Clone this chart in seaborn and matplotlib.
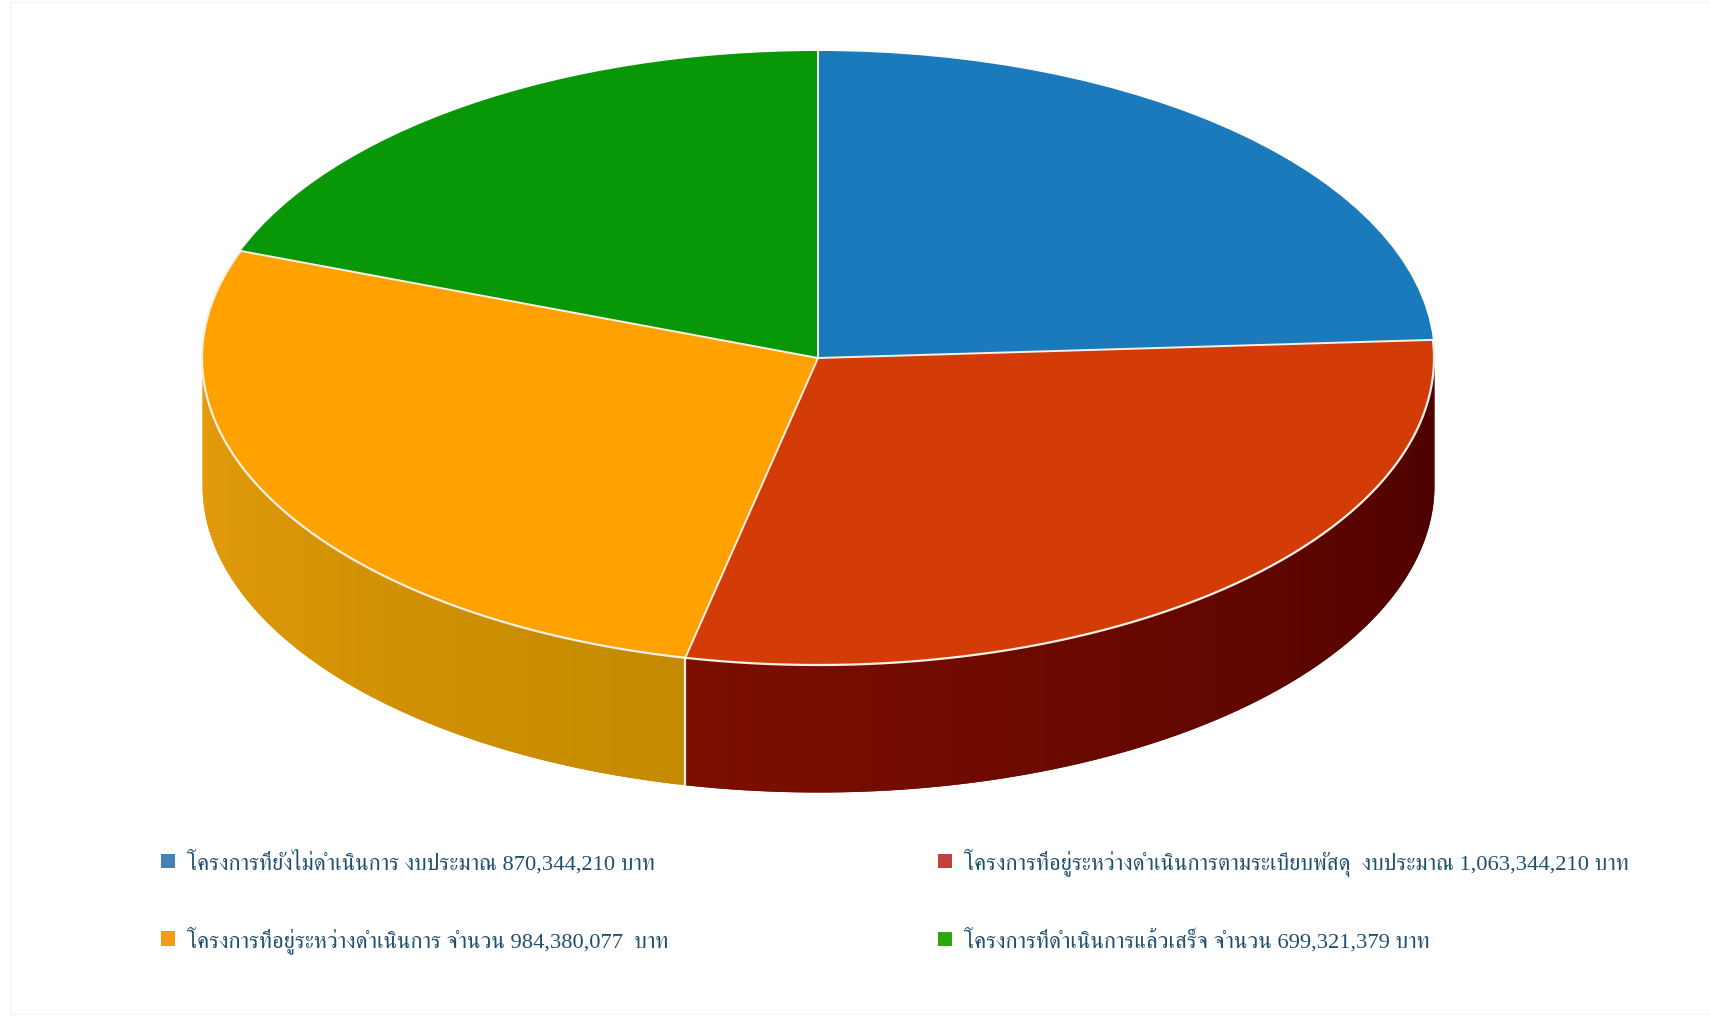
import numpy as np
import matplotlib
matplotlib.use('Agg')
import matplotlib.pyplot as plt
from matplotlib.patches import Patch, Rectangle
import seaborn as sns

# Budget per project status (baht)
statuses = ['โครงการที่ยังไม่ดำเนินการ งบประมาณ 870,344,210 บาท',
            'โครงการที่อยู่ระหว่างดำเนินการตามระเบียบพัสดุ  งบประมาณ 1,063,344,210 บาท',
            'โครงการที่อยู่ระหว่างดำเนินการ จำนวน 984,380,077  บาท',
            'โครงการที่ดำเนินการแล้วเสร็จ จำนวน 699,321,379 บาท']
budgets = [870344210, 1063344210, 984380077, 699321379]

top_colors = ['#1a7abb', '#d33c06', '#ffa200', '#079707']
legend_colors = ['#4482b4', '#c0423a', '#f79c12', '#2fa80f']
# wall shade at the two ends of each visible side
wall_shades = {1: ['#4a0000', '#7c0e00'], 2: ['#c48a00', '#e59c0c']}
line_color = '#f8efe6'

DEPTH = 127 / 307

sns.set_theme(style='white')
plt.rcParams['font.family'] = ['Liberation Serif', 'FreeSerif', 'DejaVu Sans']

fig = plt.figure(figsize=(17.1, 10.2), dpi=100)
ax = fig.add_axes([0, 0, 1, 1])

wedges, _ = ax.pie(budgets, colors=top_colors, startangle=90, counterclock=False,
                   wedgeprops={'linewidth': 0, 'zorder': 3})
ax.set_aspect('auto')
ax.set_xlim(-818 / 616, (1710 - 818) / 616)
ax.set_ylim((359 - 1020) / 307, 359 / 307)

edges = 90 - 360 * np.cumsum([0] + budgets) / sum(budgets)

# White lines: between all slices and around the front of the disc
rim = np.radians(np.linspace(edges[1], edges[3], 400))
ax.plot(np.cos(rim), np.sin(rim), color=line_color, linewidth=1.6, zorder=4)
for angle in np.radians(edges[:4]):
    ax.plot([0, np.cos(angle)], [0, np.sin(angle)], color=line_color, linewidth=1.4, zorder=4)

# Side wall of the disc, only the slices facing the viewer
for i, shades in wall_shades.items():
    start = min(edges[i], 0)
    stop = max(edges[i + 1], -180)
    angles = np.radians(np.linspace(start, stop, 121))
    palette = sns.blend_palette(shades, len(angles) - 1)
    for k, c in enumerate(palette):
        # each strip runs under the next one, so no seams show
        t = angles[k:k + 3]
        ax.fill_between(np.cos(t), np.sin(t), np.sin(t) - DEPTH, color=c, linewidth=0, zorder=1)

# Seam where red and orange meet on the wall
seam = np.radians(edges[2])
ax.vlines(np.cos(seam), np.sin(seam) - DEPTH, np.sin(seam), color=line_color, linewidth=1.6, zorder=2)

# legend fills column by column, so left column first
order = [0, 2, 1, 3]
handles = [Patch(facecolor=legend_colors[i], edgecolor='none') for i in order]
ax.legend(handles, [statuses[i] for i in order], ncol=2, frameon=False, fontsize=16.2,
          loc='upper left', bbox_to_anchor=(161 / 1710, 1 - 849 / 1020), borderaxespad=0, borderpad=0,
          handlelength=0.6, handleheight=0.6, handletextpad=0.55, labelspacing=2.28,
          columnspacing=12.0, labelcolor='#1f4f6f')

# faint edge of the scanned page
fig.add_artist(Rectangle((10 / 1710, 5 / 1020), 1720 / 1710, 1012 / 1020, transform=fig.transFigure,
                         fill=False, edgecolor='#f3f4f6', linewidth=1.0))

fig.savefig('out.png', dpi=100, facecolor='white')
